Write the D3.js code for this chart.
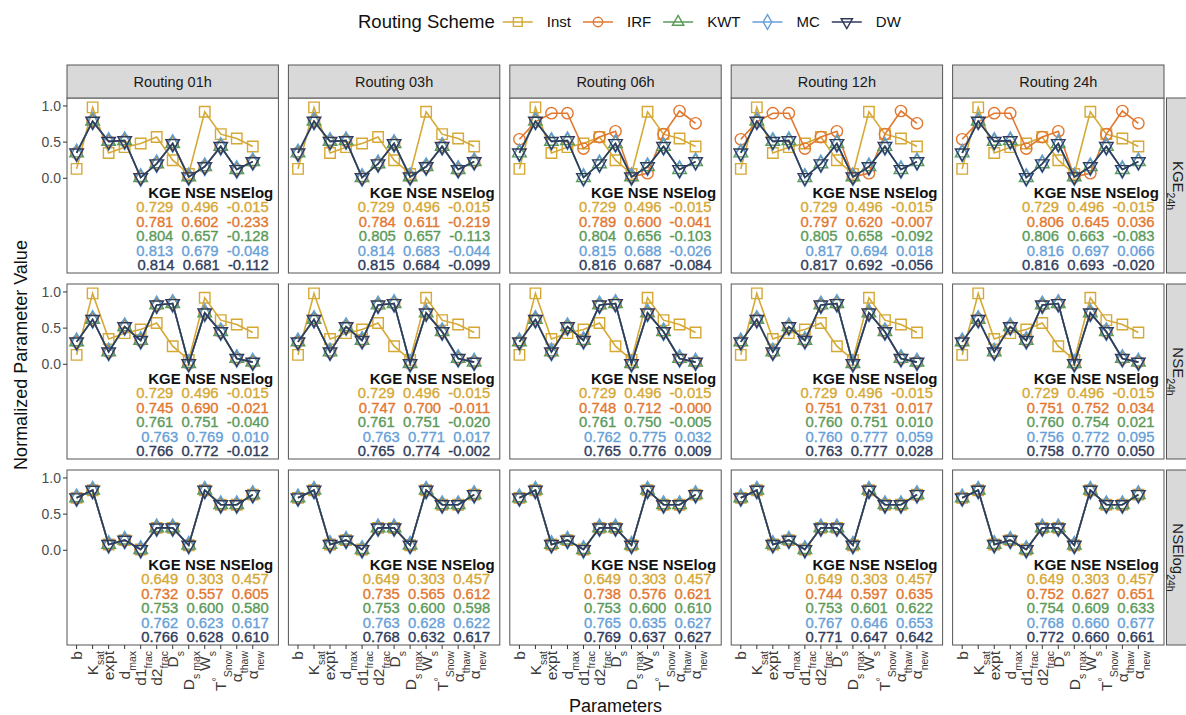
<!DOCTYPE html>
<html>
<head>
<meta charset="utf-8">
<script src="https://cdn.jsdelivr.net/npm/d3@7"></script>
<style>
  body { margin: 0; background: #fff; }
  svg text { font-family: "Liberation Sans", Arial, Helvetica, sans-serif; }
</style>
</head>
<body>
<div id="chart"></div>
<script>
// ---- data ----
const params    = ["b", "Ksat", "expt", "dmax", "d1frac", "d2frac", "Ds", "Dsmax", "Ws", "TSnow", "athaw", "anew"];
const paramMain = ["b", "K", "expt", "d", "d1", "d2", "D", "D", "W", "T", "\u03b1", "\u03b1"];
const paramSup  = ["", "", "", "", "", "", "", "", "", "\u00b0", "", ""];
const paramSub  = ["", "sat", "", "max", "frac", "frac", "s", "s max", "s", "Snow", "thaw", "new"];

const routings = ["Routing 01h", "Routing 03h", "Routing 06h", "Routing 12h", "Routing 24h"];
const metrics  = ["KGE", "NSE", "NSElog"];
const schemes  = ["Inst", "IRF", "KWT", "MC", "DW"];
const schemeColors = ["#D6A834", "#E2772F", "#5A9A58", "#679FD8", "#2F3B5B"];
const yTicks = [0, 0.5, 1];

// normalized parameter values
const instSet   = [0.13, 0.98, 0.35, 0.43, 0.48, 0.57, 0.25, 0.06, 0.92, 0.61, 0.55, 0.44];
const kgeSet    = [0.35, 0.79, 0.51, 0.52, 0.01, 0.20, 0.48, 0.02, 0.16, 0.44, 0.12, 0.23];
const kgeIrfSet = [0.54, 0.78, 0.90, 0.90, 0.41, 0.57, 0.65, 0.02, 0.07, 0.61, 0.93, 0.76];
const nseSet    = [0.31, 0.62, 0.17, 0.52, 0.33, 0.82, 0.84, 0.01, 0.71, 0.45, 0.08, 0.03];
const logSet    = [0.725, 0.83, 0.08, 0.14, 0.01, 0.31, 0.31, 0.07, 0.83, 0.63, 0.63, 0.77];

// which parameter set each scheme shows, per routing column
const kgeLines = [
  [instSet, kgeSet, kgeSet, kgeSet, kgeSet],
  [instSet, kgeSet, kgeSet, kgeSet, kgeSet],
  [instSet, kgeIrfSet, kgeSet, kgeSet, kgeSet],
  [instSet, kgeIrfSet, kgeSet, kgeSet, kgeSet],
  [instSet, kgeIrfSet, kgeSet, kgeSet, kgeSet]
];
const nseLines = routings.map(() => [instSet, nseSet, nseSet, nseSet, nseSet]);
const logLines = routings.map(() => [logSet, logSet, logSet, logSet, logSet]);

// performance table: [column][scheme] = [KGE, NSE, NSElog]
const statsKGE = [
  [["0.729","0.496","-0.015"],["0.781","0.602","-0.233"],["0.804","0.657","-0.128"],["0.813","0.679","-0.048"],["0.814","0.681","-0.112"]],
  [["0.729","0.496","-0.015"],["0.784","0.611","-0.219"],["0.805","0.657","-0.113"],["0.814","0.683","-0.044"],["0.815","0.684","-0.099"]],
  [["0.729","0.496","-0.015"],["0.789","0.600","-0.041"],["0.804","0.656","-0.103"],["0.815","0.688","-0.026"],["0.816","0.687","-0.084"]],
  [["0.729","0.496","-0.015"],["0.797","0.620","-0.007"],["0.805","0.658","-0.092"],["0.817","0.694","0.018"],["0.817","0.692","-0.056"]],
  [["0.729","0.496","-0.015"],["0.806","0.645","0.036"],["0.806","0.663","-0.083"],["0.816","0.697","0.066"],["0.816","0.693","-0.020"]]
];
const statsNSE = [
  [["0.729","0.496","-0.015"],["0.745","0.690","-0.021"],["0.761","0.751","-0.040"],["0.763","0.769","0.010"],["0.766","0.772","-0.012"]],
  [["0.729","0.496","-0.015"],["0.747","0.700","-0.011"],["0.761","0.751","-0.020"],["0.763","0.771","0.017"],["0.765","0.774","-0.002"]],
  [["0.729","0.496","-0.015"],["0.748","0.712","-0.000"],["0.761","0.750","-0.005"],["0.762","0.775","0.032"],["0.765","0.776","0.009"]],
  [["0.729","0.496","-0.015"],["0.751","0.731","0.017"],["0.760","0.751","0.010"],["0.760","0.777","0.059"],["0.763","0.777","0.028"]],
  [["0.729","0.496","-0.015"],["0.751","0.752","0.034"],["0.760","0.754","0.021"],["0.756","0.772","0.095"],["0.758","0.770","0.050"]]
];
const statsLog = [
  [["0.649","0.303","0.457"],["0.732","0.557","0.605"],["0.753","0.600","0.580"],["0.762","0.623","0.617"],["0.766","0.628","0.610"]],
  [["0.649","0.303","0.457"],["0.735","0.565","0.612"],["0.753","0.600","0.598"],["0.763","0.628","0.622"],["0.768","0.632","0.617"]],
  [["0.649","0.303","0.457"],["0.738","0.576","0.621"],["0.753","0.600","0.610"],["0.765","0.635","0.627"],["0.769","0.637","0.627"]],
  [["0.649","0.303","0.457"],["0.744","0.597","0.635"],["0.753","0.601","0.622"],["0.767","0.646","0.653"],["0.771","0.647","0.642"]],
  [["0.649","0.303","0.457"],["0.752","0.627","0.651"],["0.754","0.609","0.633"],["0.768","0.660","0.677"],["0.772","0.660","0.661"]]
];

const rowLines = [kgeLines, nseLines, logLines];
const rowStats = [statsKGE, statsNSE, statsLog];
const statHeader = "KGE NSE NSElog";

// ---- layout ----
const svgWidth = 1186, svgHeight = 715;
const panelLeft = 67, panelW = 211.4, gapX = 10;
const panelTop = 98, panelH = 175, gapY = 11, stripH = 33;

const svg = d3.select("#chart").append("svg")
  .attr("width", svgWidth)
  .attr("height", svgHeight);

// scales (same for every panel)
const x = d3.scaleLinear().domain([0.4, 13.6]).range([0, panelW]);
const y = d3.scaleLinear().domain([-1.31, 1.11]).range([panelH, 0]);

const symbols = [d3.symbolSquare, d3.symbolCircle, d3.symbolTriangle, d3.symbolDiamond, d3.symbolTriangle];
const symbolSize = [110, 100, 80, 90, 80];
const symbolRot = [0, 0, 0, 0, 180];

const line = d3.line()
  .x((d, i) => x(i + 1))
  .y(d => y(d));

function addMarker(g, s, cx, cy, scale) {
  g.append("path")
    .attr("d", d3.symbol().type(symbols[s]).size(symbolSize[s] * scale)())
    .attr("transform", `translate(${cx},${cy}) rotate(${symbolRot[s]})`)
    .attr("fill", "none")
    .attr("stroke", schemeColors[s])
    .attr("stroke-width", 1.4);
}

metrics.forEach((metric, r) => {
  const top = panelTop + r * (panelH + gapY);

  routings.forEach((routing, c) => {
    const left = panelLeft + c * (panelW + gapX);
    const g = svg.append("g").attr("transform", `translate(${left},${top})`);

    g.append("rect")
      .attr("width", panelW).attr("height", panelH)
      .attr("fill", "#fff");

    // series
    rowLines[r][c].forEach((vals, s) => {
      g.append("path")
        .datum(vals)
        .attr("d", line)
        .attr("fill", "none")
        .attr("stroke", schemeColors[s])
        .attr("stroke-width", 1.6);
      vals.forEach((v, i) => addMarker(g, s, x(i + 1), y(v), 1));
    });

    // performance text
    g.append("text")
      .attr("x", x(13.28)).attr("y", y(-0.2))
      .attr("dy", "0.35em")
      .attr("text-anchor", "end")
      .style("font-size", "15px")
      .style("font-weight", "bold")
      .attr("fill", "#111")
      .text(statHeader);

    rowStats[r][c].forEach((st, s) => {
      g.append("text")
        .attr("x", x(13)).attr("y", y(-0.4 - 0.2 * s))
        .attr("dy", "0.35em")
        .attr("text-anchor", "end")
        .attr("xml:space", "preserve")
        .style("white-space", "pre")
        .style("font-size", "14.8px")
        .attr("fill", schemeColors[s])
        .attr("stroke", schemeColors[s])
        .attr("stroke-width", 0.35)
        .text(st.join("  "));
    });

    g.append("rect")
      .attr("width", panelW).attr("height", panelH)
      .attr("fill", "none")
      .attr("stroke", "#555")
      .attr("stroke-width", 1);

    // top strip
    if (r === 0) {
      g.append("rect")
        .attr("y", -stripH).attr("width", panelW).attr("height", stripH)
        .attr("fill", "#D9D9D9").attr("stroke", "#555").attr("stroke-width", 1);
      g.append("text")
        .attr("x", panelW / 2).attr("y", -stripH / 2)
        .attr("dy", "0.35em")
        .attr("text-anchor", "middle")
        .style("font-size", "14.5px")
        .attr("fill", "#1a1a1a")
        .text(routing);
    }

    // right strip
    if (c === routings.length - 1) {
      g.append("rect")
        .attr("x", panelW + 2.5).attr("width", 30).attr("height", panelH)
        .attr("fill", "#D9D9D9").attr("stroke", "#555").attr("stroke-width", 1);
      const st = g.append("text")
        .attr("transform", `translate(${panelW + 14},${panelH / 2}) rotate(90)`)
        .attr("text-anchor", "middle")
        .attr("dy", "0.35em")
        .style("font-size", "15px")
        .attr("fill", "#1a1a1a");
      st.append("tspan").text(metric);
      st.append("tspan").attr("baseline-shift", "sub").style("font-size", "10.5px").text("24h");
    }

    // y axis on the first column
    if (c === 0) {
      const ya = g.append("g");
      yTicks.forEach(t => {
        ya.append("line")
          .attr("x1", -4).attr("x2", 0)
          .attr("y1", y(t)).attr("y2", y(t))
          .attr("stroke", "#333").attr("stroke-width", 1);
        ya.append("text")
          .attr("x", -6).attr("y", y(t))
          .attr("dy", "0.35em")
          .attr("text-anchor", "end")
          .style("font-size", "14px")
          .attr("fill", "#4d4d4d")
          .text(d3.format(".1f")(t));
      });
    }

    // x axis on the bottom row
    if (r === metrics.length - 1) {
      params.forEach((p, i) => {
        g.append("line")
          .attr("x1", x(i + 1)).attr("x2", x(i + 1))
          .attr("y1", panelH).attr("y2", panelH + 4)
          .attr("stroke", "#333").attr("stroke-width", 1);
        const lab = g.append("text")
          .attr("transform", `translate(${x(i + 1)},${panelH + 6}) rotate(-90)`)
          .attr("text-anchor", "end")
          .attr("dy", "0.35em")
          .style("font-size", "15.5px")
          .attr("fill", "#3a3a3a");
        lab.append("tspan").text(paramMain[i]);
        if (paramSup[i]) lab.append("tspan").attr("baseline-shift", "super").style("font-size", "10.5px").text(paramSup[i]);
        if (paramSub[i]) lab.append("tspan").attr("baseline-shift", "sub").style("font-size", "10.5px").text(paramSub[i]);
      });
    }
  });
});

// axis titles
svg.append("text")
  .attr("transform", `translate(21, 355) rotate(-90)`)
  .attr("text-anchor", "middle")
  .attr("dy", "0.35em")
  .style("font-size", "18px")
  .attr("fill", "#111")
  .text("Normalized Parameter Value");

svg.append("text")
  .attr("x", panelLeft + (5 * panelW + 4 * gapX) / 2)
  .attr("y", 706)
  .attr("text-anchor", "middle")
  .attr("dy", "0.35em")
  .style("font-size", "18px")
  .attr("fill", "#111")
  .text("Parameters");

// legend
const legend = svg.append("g").attr("transform", "translate(0, 22)");
const legTitle = legend.append("text")
  .attr("x", 358).attr("dy", "0.35em")
  .style("font-size", "18.5px")
  .attr("fill", "#111")
  .text("Routing Scheme");
let lx = 358 + legTitle.node().getComputedTextLength() + 8;
schemes.forEach((name, s) => {
  legend.append("line")
    .attr("x1", lx).attr("x2", lx + 30)
    .attr("stroke", schemeColors[s]).attr("stroke-width", 1.5);
  addMarker(legend, s, lx + 15, 0, 0.7);
  const t = legend.append("text")
    .attr("x", lx + 44).attr("dy", "0.35em")
    .style("font-size", "15px")
    .attr("fill", "#111")
    .text(name);
  lx = lx + 44 + t.node().getComputedTextLength() + 12;
});
</script>
</body>
</html>
